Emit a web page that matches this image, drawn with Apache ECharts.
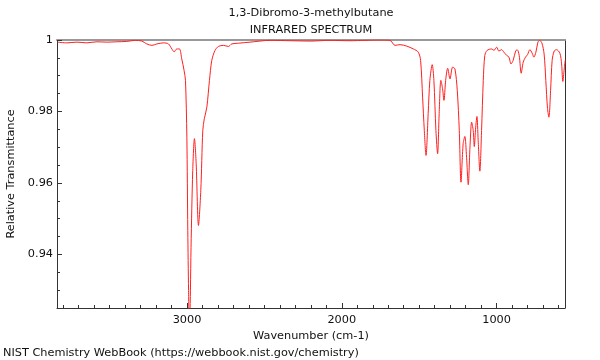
<!DOCTYPE html>
<html><head><meta charset="utf-8">
<script src="https://cdn.jsdelivr.net/npm/echarts@6/dist/echarts.min.js"></script>
<style>html,body{margin:0;padding:0;background:#fff}#c{width:600px;height:360px}</style>
</head><body><div id="c"></div>
<script>
const titleLines = ['1,3-Dibromo-3-methylbutane', 'INFRARED SPECTRUM'];
const xName = 'Wavenumber (cm-1)';
const yName = 'Relative Transmittance';
const footer = 'NIST Chemistry WebBook (https://webbook.nist.gov/chemistry)';
const xMajorTicks = [1000, 2000, 3000];
const yMajorTicks = [0.94, 0.96, 0.98, 1];
const wavenumbers = [3837,3776,3711,3647,3582,3518,3453,3389,3335,3292,3260,3227,3195,3152,3120,3098,3083,3066,3049,3034,3019,3010,3001,2995,2990,2986,2982,2978,2974,2963,2952,2941,2926,2911,2898,2888,2872,2855,2840,2819,2797,2765,2733,2711,2668,2593,2464,2333,2205,2076,1947,1850,1753,1689,1656,1624,1581,1538,1506,1491,1478,1467,1456,1442,1431,1416,1405,1392,1381,1371,1360,1349,1340,1329,1316,1301,1284,1269,1254,1241,1230,1216,1205,1194,1183,1172,1161,1151,1144,1135,1127,1119,1108,1097,1086,1076,1061,1032,1017,1000,985,968,953,935,920,907,893,877,867,854,841,828,813,800,785,770,759,746,733,722,707,693,682,671,662,651,641,628,613,591,580,572,563,557];
const transmittance = [0.9994,0.9992,0.9994,0.9992,0.9995,0.9994,0.9995,0.9996,0.9999,0.9997,0.9989,0.9985,0.9989,0.9992,0.9989,0.9975,0.9967,0.9975,0.9975,0.9947,0.9915,0.9887,0.9728,0.9467,0.9299,0.9215,0.9225,0.930,0.942,0.9635,0.9724,0.9655,0.9481,0.9579,0.9747,0.9780,0.9812,0.9887,0.9943,0.9971,0.9982,0.9985,0.9982,0.9989,0.9991,0.9994,0.9999,0.9998,0.9997,0.9999,0.9998,0.9999,1.0,0.9999,0.9985,0.9987,0.9983,0.9975,0.9966,0.9943,0.9840,0.9747,0.9677,0.9794,0.9887,0.9931,0.9887,0.9747,0.9682,0.9794,0.9887,0.9864,0.9831,0.9887,0.9921,0.9891,0.9924,0.9919,0.9859,0.9747,0.9602,0.9710,0.9730,0.9672,0.9595,0.9700,0.9770,0.9747,0.9702,0.9756,0.9786,0.9719,0.9633,0.9747,0.9887,0.9957,0.9971,0.9975,0.9971,0.9980,0.9969,0.9973,0.9966,0.9957,0.9952,0.9933,0.9943,0.9969,0.9973,0.9957,0.9907,0.9938,0.9952,0.9959,0.9973,0.9963,0.9952,0.9966,0.9994,0.9999,0.9991,0.9961,0.9887,0.9808,0.9784,0.9859,0.9943,0.9969,0.9973,0.9963,0.9933,0.9884,0.9919,0.9943];

const X_MIN = 558, X_MAX = 3840, Y_MIN = 0.925, Y_MAX = 1;
const xMinor = []; for (let v = 600; v <= 3800; v += 100) xMinor.push(v);
const yMinor = []; for (let i = 186; i <= 200; i++) yMinor.push(+(i * 0.005).toFixed(3));

const FONT = 'DejaVu Sans';
const FS = 11.3;
const TXT = '#111';
const AX = '#333';
const chart = echarts.init(document.getElementById('c'), null, {renderer: 'canvas'});
const baseX = {type: 'value', inverse: true, min: X_MIN, max: X_MAX, gridIndex: 0, splitLine: {show: false}};
const baseY = {type: 'value', min: Y_MIN, max: Y_MAX, gridIndex: 0, splitLine: {show: false}};
chart.setOption({
  animation: false,
  textStyle: {fontFamily: FONT},
  grid: {left: 57, right: 35, top: 40, bottom: 52, containLabel: false, outerBoundsMode: 'none'},
  xAxis: [
    Object.assign({}, baseX, {position: 'bottom',
      axisLine: {show: true, lineStyle: {color: AX, width: 1}},
      axisTick: {show: true, inside: true, length: 5, customValues: xMajorTicks, lineStyle: {color: AX}},
      axisLabel: {show: true, customValues: xMajorTicks, margin: 7, color: TXT, fontSize: FS, fontFamily: FONT,
        formatter: v => String(Math.round(v))},
      name: xName, nameLocation: 'middle', nameGap: 20,
      nameTextStyle: {color: TXT, fontSize: FS, fontFamily: FONT}}),
    Object.assign({}, baseX, {position: 'bottom',
      axisLine: {show: false},
      axisTick: {show: true, inside: true, length: 3, customValues: xMinor, lineStyle: {color: AX}},
      axisLabel: {show: false}}),
    Object.assign({}, baseX, {position: 'top',
      axisLine: {show: true, lineStyle: {color: '#999', width: 2}},
      axisTick: {show: false}, axisLabel: {show: false}})
  ],
  yAxis: [
    Object.assign({}, baseY, {position: 'left',
      axisLine: {show: true, lineStyle: {color: AX, width: 1}},
      axisTick: {show: true, inside: true, length: 5, customValues: yMajorTicks, lineStyle: {color: AX}},
      axisLabel: {show: true, customValues: yMajorTicks, margin: 4, color: TXT, fontSize: FS, fontFamily: FONT,
        formatter: v => (Math.abs(v - 1) < 1e-9 ? '1' : v.toFixed(2))},
      name: yName, nameLocation: 'middle', nameGap: 40, nameRotate: 90,
      nameTextStyle: {color: TXT, fontSize: FS, fontFamily: FONT}}),
    Object.assign({}, baseY, {position: 'left',
      axisLine: {show: false},
      axisTick: {show: true, inside: true, length: 3, customValues: yMinor, lineStyle: {color: AX}},
      axisLabel: {show: false}}),
    Object.assign({}, baseY, {position: 'right',
      axisLine: {show: true, lineStyle: {color: AX, width: 1}},
      axisTick: {show: false}, axisLabel: {show: false}})
  ],
  graphic: [
    {type: 'text', x: 311, y: 13, style: {text: titleLines[0], font: FS + 'px "DejaVu Sans"', fill: TXT, align: 'center', verticalAlign: 'middle'}},
    {type: 'text', x: 311, y: 30, style: {text: titleLines[1], font: FS + 'px "DejaVu Sans"', fill: TXT, align: 'center', verticalAlign: 'middle'}},
    {type: 'text', x: 3, y: 353, style: {text: footer, font: FS + 'px "DejaVu Sans"', fill: TXT, align: 'left', verticalAlign: 'middle'}}
  ],
  series: [{
    type: 'line', xAxisIndex: 0, yAxisIndex: 0, showSymbol: false, symbol: 'none', clip: true,
    smooth: 0.3,
    lineStyle: {color: '#ff2020', width: 1},
    data: wavenumbers.map((w, i) => [w, transmittance[i]])
  }]
});
</script></body></html>
